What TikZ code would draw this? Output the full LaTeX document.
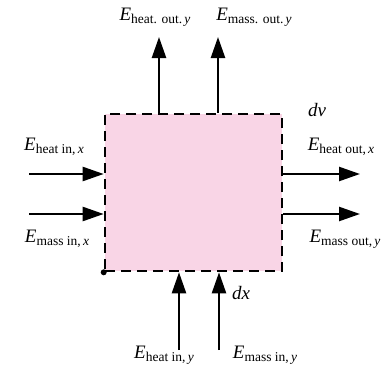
\documentclass[tikz,border=0pt]{standalone}
\usepackage{fontspec}
\setmainfont{Liberation Serif}
\usetikzlibrary{arrows.meta}
\definecolor{cvpink}{RGB}{249,213,230}
\newcommand{\flux}[2]{\textit{E}\raisebox{-3.5pt}{\fontsize{13.5}{15}\selectfont #1\,\textit{#2}}}
\begin{document}
\begin{tikzpicture}[x=1pt, y=-1pt,
      every node/.style={font=\fontsize{19}{22}\selectfont, inner sep=1pt},
      cv/.style={draw, dashed, dash pattern=on 10pt off 6pt, line width=2.6pt,
                 fill=cvpink, minimum width=177pt, minimum height=157pt},
      flow/.style={line width=2.4pt, -{Triangle[length=21pt, width=14pt]}}]
    \useasboundingbox (0,0) rectangle (391,370);
    \node[cv] (cv) at (193.5,192.5) {};
    \fill (cv.south west) circle (3pt);
    % free ends of the flows
    \coordinate (hix) at (29,174);
    \coordinate (mix) at (29,214);
    \coordinate (hox) at (360,174);
    \coordinate (mox) at (360,214);
    \coordinate (hoy) at (159,37);
    \coordinate (moy) at (218,37);
    \coordinate (hiy) at (179,350);
    \coordinate (miy) at (219,350);
    \draw[flow] (hix) -- (hix -| cv.west);
    \draw[flow] (mix) -- (mix -| cv.west);
    \draw[flow] (hox -| cv.east) -- (hox);
    \draw[flow] (mox -| cv.east) -- (mox);
    \draw[flow] (hoy |- cv.north) -- (hoy);
    \draw[flow] (moy |- cv.north) -- (moy);
    \draw[flow] (hiy) -- (hiy |- cv.south);
    \draw[flow] (miy) -- (miy |- cv.south);
    % labels
    \node (lhix) at (54,147)  {\flux{heat in,}{x}};
    \node (lmix) at (57,239)  {\flux{mass in,}{x}};
    \node (lhox) at (341,147) {\flux{heat out,}{x}};
    \node (lmox) at (345,239) {\flux{mass out,}{y}};
    \node (lhoy) at (155,17)  {\flux{heat. out.}{y}};
    \node (lmoy) at (254,17)  {\flux{mass. out.}{y}};
    \node (lhiy) at (164,355) {\flux{heat in,}{y}};
    \node (lmiy) at (265,355) {\flux{mass in,}{y}};
    \node (dv) at (317,110) {\textit{dv}};
    \node (dx) at (241,293) {\textit{dx}};
\end{tikzpicture}
\end{document}
